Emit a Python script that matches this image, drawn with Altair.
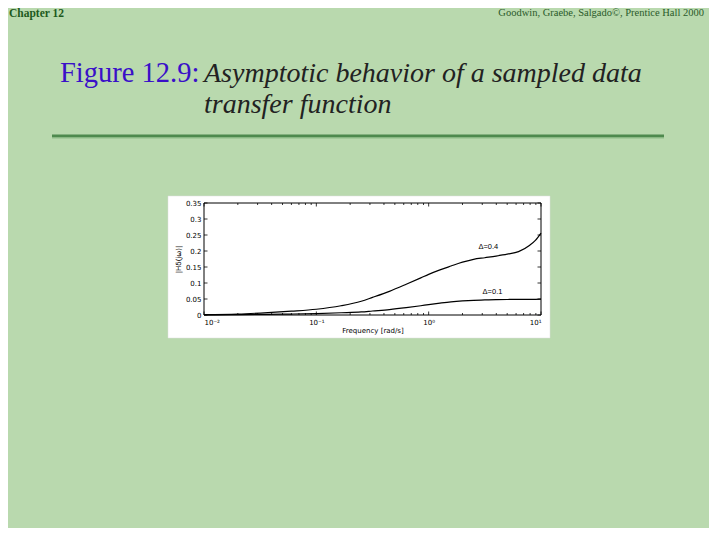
import altair as alt
import pandas as pd

# ---- data ----
freq = [0.01, 0.02, 0.037, 0.06, 0.1, 0.166, 0.251, 0.316, 0.447, 0.631, 0.851, 1.0, 1.26, 1.58,
        2.0, 2.51, 3.16, 3.98, 5.01, 6.31, 7.94, 8.91, 10.0]
mag_d04 = [0.001, 0.003, 0.0075, 0.012, 0.018, 0.029, 0.043, 0.055, 0.074, 0.096, 0.116, 0.127, 0.141, 0.153,
           0.165, 0.174, 0.179, 0.184, 0.19, 0.198, 0.218, 0.233, 0.256]
mag_d01 = [0.0005, 0.001, 0.002, 0.003, 0.0045, 0.007, 0.0095, 0.0125, 0.017, 0.023, 0.029, 0.0325, 0.037, 0.041,
           0.044, 0.046, 0.047, 0.048, 0.0485, 0.049, 0.049, 0.049, 0.0495]
series_names = ["Δ=0.4", "Δ=0.1"]
label_freq = [3.4, 3.7]
label_mag = [0.212, 0.072]

x_major = [0.01, 0.1, 1, 10]
x_major_labels = ["10⁻²", "10⁻¹", "10⁰", "10¹"]
x_minor = [m * d for d in [0.01, 0.1, 1] for m in range(2, 10)]
y_ticks = [0, 0.05, 0.1, 0.15, 0.2, 0.25, 0.3, 0.35]

W, H = 337, 112
BG = "#b9d9ae"

curves = pd.DataFrame(
    [{"f": f, "m": m, "s": series_names[0]} for f, m in zip(freq, mag_d04)]
    + [{"f": f, "m": m, "s": series_names[1]} for f, m in zip(freq, mag_d01)]
)
labels_df = pd.DataFrame({"f": label_freq, "m": label_mag, "t": series_names})
xmaj_df = pd.DataFrame({"f": x_major})
xmin_df = pd.DataFrame({"f": x_minor})
yt_df = pd.DataFrame({"m": y_ticks})
one = pd.DataFrame({"a": [0]})

xscale = alt.Scale(type="log", domain=[0.01, 10], nice=False)
yscale = alt.Scale(domain=[0, 0.35], nice=False, zero=True)

label_expr = " : ".join(
    f"datum.value == {v} ? '{l}'" for v, l in zip(x_major, x_major_labels)
) + " : ''"

xaxis = alt.Axis(values=x_major, labelExpr=label_expr, ticks=False, domain=False, zindex=2,
                 grid=False, title="Frequency [rad/s]", labelPadding=3, titlePadding=1)
yaxis = alt.Axis(values=y_ticks, format="~g", ticks=False, domain=False, grid=False, zindex=2,
                 title="|Hδ(jω)|", labelPadding=3, titlePadding=4)
X = alt.X("f:Q", scale=xscale, axis=xaxis)
Y = alt.Y("m:Q", scale=yscale, axis=yaxis)

# white panel behind the plot
panel = alt.Chart(one).mark_rect(fill="white", stroke="#dddddd", strokeWidth=0.5).encode(
    x=alt.value(-36), x2=alt.value(346), y=alt.value(-7), y2=alt.value(135))

lines = alt.Chart(curves).mark_line(color="black", strokeWidth=1.2, interpolate="monotone").encode(
    x=X, y=Y, detail="s:N")

frame = alt.Chart(one).mark_rect(fill=None, stroke="black", strokeWidth=1).encode(
    x=alt.value(0), x2=alt.value(W), y=alt.value(0), y2=alt.value(H))

tick_style = dict(color="black", strokeWidth=0.8)
xt_bot_maj = alt.Chart(xmaj_df).mark_rule(**tick_style).encode(x=X, y=alt.value(H), y2=alt.value(H - 3.5))
xt_top_maj = alt.Chart(xmaj_df).mark_rule(**tick_style).encode(x=X, y=alt.value(0), y2=alt.value(3.5))
xt_bot_min = alt.Chart(xmin_df).mark_rule(**tick_style).encode(x=X, y=alt.value(H), y2=alt.value(H - 2))
xt_top_min = alt.Chart(xmin_df).mark_rule(**tick_style).encode(x=X, y=alt.value(0), y2=alt.value(2))
yt_left = alt.Chart(yt_df).mark_rule(**tick_style).encode(y=Y, x=alt.value(0), x2=alt.value(3.5))
yt_right = alt.Chart(yt_df).mark_rule(**tick_style).encode(y=Y, x=alt.value(W), x2=alt.value(W - 3.5))

curve_labels = alt.Chart(labels_df).mark_text(font="Liberation Sans", fontSize=7.5, color="black").encode(
    x=X, y=Y, text="t:N")

# slide decoration texts
chapter = alt.Chart(one).mark_text(text="Chapter 12", font="Liberation Serif", fontSize=11.5,
                                   fontWeight="bold", color="#1d5a1d", align="left", baseline="alphabetic").encode(
    x=alt.value(-195), y=alt.value(-186))
credit = alt.Chart(one).mark_text(text="Goodwin, Graebe, Salgado©, Prentice Hall 2000", font="Liberation Serif",
                                  fontSize=10.5, color="#2a5a2a", align="right", baseline="alphabetic").encode(
    x=alt.value(500), y=alt.value(-187))
fig_num = alt.Chart(one).mark_text(text="Figure 12.9:", font="Liberation Serif", fontSize=28.5,
                                   color="#3a10c8", align="left", baseline="alphabetic").encode(
    x=alt.value(-144), y=alt.value(-121))
fig_t1 = alt.Chart(one).mark_text(text="Asymptotic behavior of a sampled data", font="Liberation Serif",
                                  fontSize=28, fontStyle="italic", color="#222222", align="left",
                                  baseline="alphabetic").encode(x=alt.value(0), y=alt.value(-121))
fig_t2 = alt.Chart(one).mark_text(text="transfer function", font="Liberation Serif",
                                  fontSize=28, fontStyle="italic", color="#222222", align="left",
                                  baseline="alphabetic").encode(x=alt.value(0), y=alt.value(-90))
sep = alt.Chart(one).mark_rule(color="#4e8a4e", strokeWidth=3).encode(
    x=alt.value(-152), x2=alt.value(460), y=alt.value(-67))
sep2 = alt.Chart(one).mark_rule(color="#8fbf88", strokeWidth=1).encode(
    x=alt.value(-152), x2=alt.value(460), y=alt.value(-65))

chart = alt.layer(
    panel, lines, frame, xt_bot_maj, xt_top_maj, xt_bot_min, xt_top_min, yt_left, yt_right,
    curve_labels, chapter, credit, fig_num, fig_t1, fig_t2, sep, sep2
).properties(
    width=W, height=H,
    autosize=alt.AutoSizeParams(type="none"),
    padding={"left": 196, "top": 195, "right": 168, "bottom": 213},
).configure(background=BG).configure_view(stroke=None).configure_axis(
    labelFont="DejaVu Sans", labelFontSize=7, labelColor="black",
    titleFont="DejaVu Sans", titleFontSize=7, titleFontWeight="normal", titleColor="black",
)

chart.save("out.html", embed_options={"renderer": "svg", "actions": False})
